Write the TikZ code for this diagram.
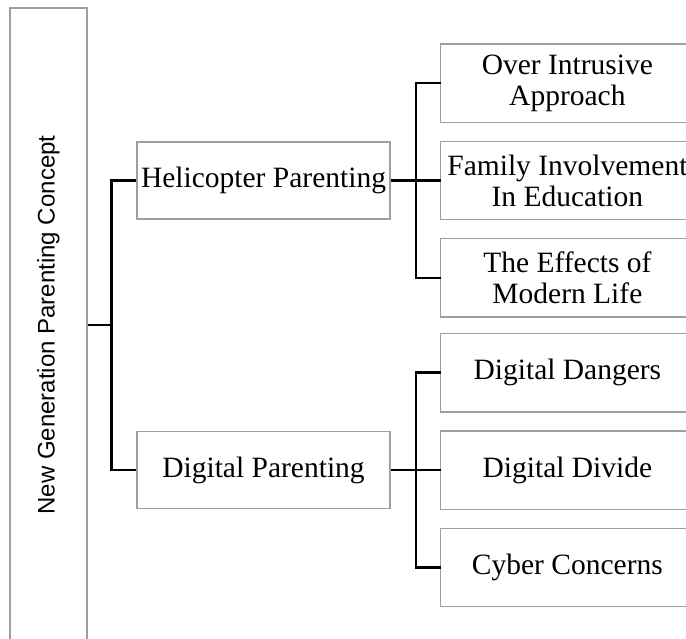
\documentclass[tikz,border=0pt]{standalone}
\usepackage{fontspec}
\setmainfont{Liberation Serif}
\setsansfont{Liberation Sans}
\usetikzlibrary{positioning}

\begin{document}
\begin{tikzpicture}[
  x=1pt, y=-1pt,
  node distance=19pt and 50pt,
  edgeline/.style={draw=gray!75, line width=1.4pt},
  box/.style={edgeline, inner sep=0pt, align=center,
    minimum height=77pt, font=\fontsize{29.5}{31}\selectfont},
  rootbox/.style={box, rotate=90, minimum width=634pt,
    font=\sffamily\fontsize{24}{28}\selectfont},
  catbox/.style={box, minimum width=253pt},
  leafbox/.style={box, draw=none, minimum width=252pt},
  link/.style={draw=black, line width=2.4pt}
]
\useasboundingbox (0,0) rectangle (686,639);
\clip (0,0) rectangle (686,639);

\node[rootbox] (root) at (48.5,325) {New Generation Parenting Concept};

\node[catbox] (heli) at (263.5,180.5) {Helicopter Parenting};
\node[catbox] (digi) at (263.5,470) {Digital Parenting};

\node[leafbox,right=of heli] (fam) {Family Involvement\\In Education};
\node[leafbox,above=of fam] (over) {Over Intrusive\\Approach};
\node[leafbox,below=of fam] (eff) {The Effects of\\Modern Life};

\node[leafbox,right=of digi] (div) {Digital Divide};
\node[leafbox,above=of div] (dang) {Digital Dangers};
\node[leafbox,below=of div] (cyb) {Cyber Concerns};

% leaf frames run on past the right edge
\foreach \n in {over,fam,eff,dang,div,cyb}
  \draw[edgeline] (\n.north west) rectangle ([xshift=25pt]\n.south east);

% root to categories
\draw[link] (heli.west) -- ++(-25pt,0) coordinate (rj) |- (digi.west);
\draw[link] (root.south) -- (root.south -| rj);

% helicopter branch
\draw[link] (heli.east) -- (fam.west);
\draw[link] (over.west) -- ++(-25pt,0) |- (eff.west);

% digital branch
\draw[link] (digi.east) -- (div.west);
\draw[link] (dang.west) -- ++(-25pt,0) |- (cyb.west);

\end{tikzpicture}
\end{document}
